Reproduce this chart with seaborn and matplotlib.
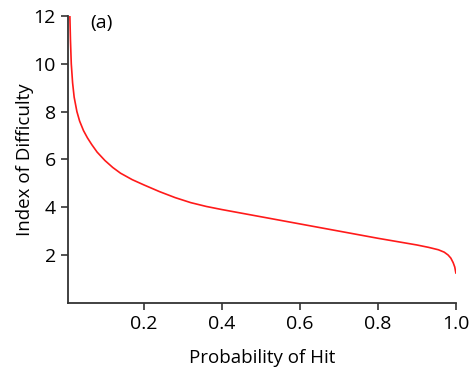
import numpy as np
import matplotlib
matplotlib.use('Agg')
import matplotlib.pyplot as plt
import seaborn as sns

# Values
prob_hit = [0.010, 0.0115, 0.0136, 0.017, 0.021, 0.028, 0.035, 0.045, 0.055,
            0.066, 0.080, 0.100, 0.120, 0.140, 0.170, 0.200, 0.240, 0.280,
            0.320, 0.360, 0.400, 0.450, 0.500, 0.550, 0.600, 0.650, 0.700,
            0.750, 0.800, 0.850, 0.900, 0.930, 0.955, 0.970, 0.980, 0.987,
            0.993, 0.997, 1.000]
index_difficulty = [12.0, 11.0, 10.0, 9.2, 8.6, 8.0, 7.6, 7.2, 6.9,
                    6.62, 6.3, 5.95, 5.66, 5.42, 5.15, 4.93, 4.65, 4.40,
                    4.19, 4.03, 3.90, 3.75, 3.60, 3.45, 3.30, 3.15, 3.00,
                    2.85, 2.70, 2.56, 2.42, 2.32, 2.22, 2.12, 2.00, 1.87,
                    1.68, 1.50, 1.24]

x_ticks = [0.2, 0.4, 0.6, 0.8, 1.0]
x_ticklabels = ['0.2', '0.4', '0.6', '0.8', '1.0']
y_ticks = [2, 4, 6, 8, 10, 12]

sns.set_style('ticks')
plt.rcParams['font.family'] = ['Open Sans', 'DejaVu Sans']
plt.rcParams['text.color'] = 'black'
plt.rcParams['axes.labelcolor'] = 'black'

fig = plt.figure(figsize=(4.75, 3.68), dpi=100)
ax = fig.add_axes([0.1438, 0.177, 0.816, 0.78])

sns.lineplot(x=prob_hit, y=index_difficulty, color='#ff1a1a', linewidth=1.2,
             sort=False, ax=ax)

ax.set_xlim(0.006, 1.0)
ax.set_ylim(0, 12)
ax.set_xticks(x_ticks)
ax.set_xticklabels(x_ticklabels)
ax.set_yticks(y_ticks)
ax.tick_params(labelsize=14, length=5, width=1.2, color='#333333',
               labelcolor='black', pad=4)

for side in ['left', 'bottom']:
    ax.spines[side].set_linewidth(1.3)
    ax.spines[side].set_color('#333333')
sns.despine(ax=ax)

ax.set_xlabel('Probability of Hit', fontsize=13.5)
ax.set_ylabel('Index of Difficulty', fontsize=13.5)
ax.xaxis.set_label_coords(0.5, -0.162)
ax.yaxis.set_label_coords(-0.088, 0.5)
ax.text(0.062, 11.7, '(a)', fontsize=14, va='center')

fig.savefig('out.png', dpi=100)
